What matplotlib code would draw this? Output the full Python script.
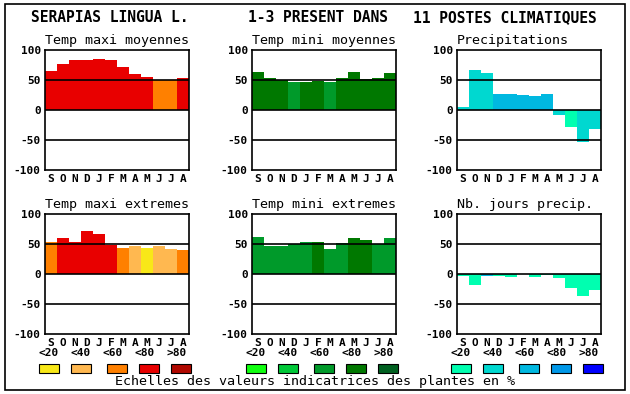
import matplotlib.pyplot as plt
from matplotlib.patches import Rectangle

# Data
months = ["S", "O", "N", "D", "J", "F", "M", "A", "M", "J", "J", "A"]
yticks = [100, 50, 0, -50, -100]
legend_labels = ["<20", "<40", "<60", "<80", ">80"]

warm = ["#f8e818", "#ffb850", "#ff8000", "#e80000", "#b00800"]
greens = ["#10ff10", "#00c838", "#009a2a", "#007800", "#006020"]
blues = ["#00ffb0", "#00d8d0", "#00b8e0", "#0098e8", "#0000ff"]

tmax_moy = [65, 77, 83, 83, 85, 83, 72, 60, 55, 50, 50, 53]
tmax_moy_cls = [3, 3, 3, 3, 3, 3, 3, 3, 3, 2, 2, 3]
tmin_moy = [63, 53, 50, 46, 47, 49, 46, 53, 63, 51, 53, 62]
tmin_moy_cls = [3, 3, 3, 2, 3, 3, 2, 3, 3, 3, 3, 3]
precip = [5, 67, 62, 27, 27, 25, 23, 27, -8, -28, -54, -31]
precip_cls = [1, 1, 1, 2, 2, 2, 2, 2, 1, 0, 1, 1]
tmax_ext = [54, 60, 54, 72, 67, 49, 44, 46, 44, 46, 42, 40]
tmax_ext_cls = [2, 3, 3, 3, 3, 3, 2, 1, 0, 1, 1, 2]
tmin_ext = [62, 46, 47, 50, 54, 54, 42, 52, 60, 57, 50, 60]
tmin_ext_cls = [2, 2, 2, 2, 2, 3, 2, 2, 3, 3, 2, 2]
jours = [-4, -18, -3, -3, -5, 0, -5, -2, -7, -24, -36, -26]
jours_cls = [0, 0, 2, 0, 0, 0, 0, 0, 0, 0, 0, 0]

panels = [
    ("Temp maxi moyennes", tmax_moy, tmax_moy_cls, warm, 45, 50),
    ("Temp mini moyennes", tmin_moy, tmin_moy_cls, greens, 252, 50),
    ("Precipitations", precip, precip_cls, blues, 457, 50),
    ("Temp maxi extremes", tmax_ext, tmax_ext_cls, warm, 45, 214),
    ("Temp mini extremes", tmin_ext, tmin_ext_cls, greens, 252, 214),
    ("Nb. jours precip.", jours, jours_cls, blues, 457, 214),
]

W, H = 630, 394
mono = "DejaVu Sans Mono"
fig = plt.figure(figsize=(W / 100, H / 100), dpi=100)

# outer frame
fig.add_artist(Rectangle((5 / W, 1 - 390 / H), 620 / W, 386 / H,
                         transform=fig.transFigure, fill=False,
                         edgecolor="black", linewidth=1.2))

# title
fig.text(110 / W, 1 - 18 / H, "SERAPIAS LINGUA L.", ha="center", va="center",
         family=mono, fontweight="bold", fontsize=10.5)
fig.text(318 / W, 1 - 18 / H, "1-3 PRESENT DANS", ha="center", va="center",
         family=mono, fontweight="bold", fontsize=10.5)
fig.text(505 / W, 1 - 18 / H, "11 POSTES CLIMATIQUES", ha="center", va="center",
         family=mono, fontweight="bold", fontsize=10.5)

for title, vals, cls, pal, x0, y0 in panels:
    ax = fig.add_axes([x0 / W, 1 - (y0 + 120) / H, 144 / W, 120 / H])
    ax.bar(range(12), vals, width=1.0, color=[pal[c] for c in cls],
           linewidth=0, zorder=1)
    for yy in (50, 0, -50):
        ax.axhline(yy, color="black", linewidth=1.2, zorder=3)
    ax.set_xlim(-0.5, 11.5)
    ax.set_ylim(-100, 100)
    ax.set_yticks(yticks)
    ax.set_yticklabels([str(t) for t in yticks], family=mono,
                       fontweight="bold", fontsize=8)
    ax.set_xticks(range(12))
    ax.set_xticklabels(months, family=mono, fontweight="bold", fontsize=8)
    ax.tick_params(length=0, pad=3)
    for s in ax.spines.values():
        s.set_linewidth(1.2)
    ax.set_title(title, family=mono, fontsize=9.6, pad=4, loc="left")

    if y0 > 100:
        for k, lab in enumerate(legend_labels):
            fig.text((x0 + 4 + 32 * k) / W, 1 - 353 / H, lab, ha="center",
                     va="center", family=mono, fontweight="bold", fontsize=8)
            sx = x0 + 4 + 32 * k + (4 if k >= 2 else 0)
            fig.add_artist(Rectangle(((sx - 10) / W, 1 - 373 / H), 20 / W, 9 / H,
                                     transform=fig.transFigure,
                                     facecolor=pal[k], edgecolor="black",
                                     linewidth=0.8))

fig.text(315 / W, 1 - 382 / H, "Echelles des valeurs indicatrices des plantes en %",
         ha="center", va="center", family=mono, fontsize=9.6)

fig.savefig("out.png", dpi=100)
